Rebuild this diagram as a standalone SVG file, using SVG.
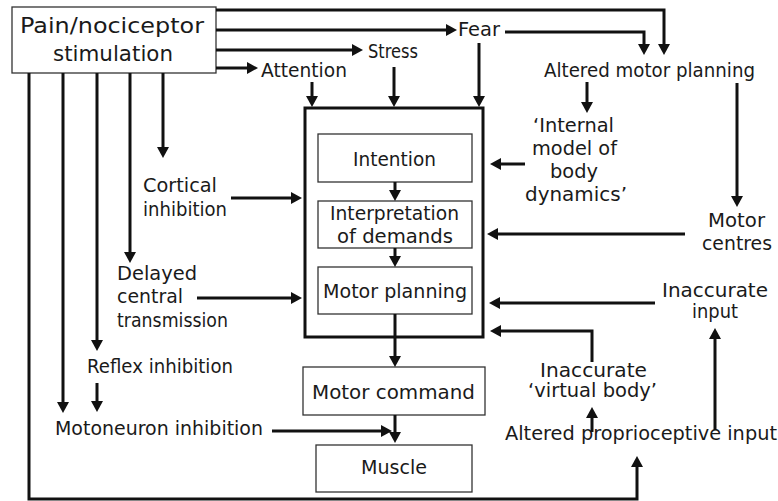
<svg xmlns="http://www.w3.org/2000/svg" width="778" height="501" viewBox="0 0 778 501">
<style>
text{font-family:"DejaVu Sans","Liberation Sans",sans-serif;font-size:19px;fill:#1a1a1a;text-anchor:start}
.big{font-size:22px}
.box{fill:#fff;stroke:#333;stroke-width:1.3}
.main{fill:none;stroke:#111;stroke-width:3}
.c path{fill:none;stroke:#111;stroke-width:3;marker-end:url(#ah)}
</style>
<defs>
<marker id="ah" markerUnits="userSpaceOnUse" markerWidth="12" markerHeight="12" refX="1" refY="6" orient="auto">
<path d="M0,0 L11,6 L0,12 z" fill="#111"/>
</marker>
</defs>
<rect width="778" height="501" fill="#fff"/>

<g id="pain">
<rect class="box" x="12" y="7" width="204" height="66"/>
<text class="big" x="20" y="33" textLength="184" lengthAdjust="spacingAndGlyphs">Pain/nociceptor</text>
<text class="big" x="53" y="61" textLength="120" lengthAdjust="spacingAndGlyphs">stimulation</text>
</g>
<g id="fear"><text x="458" y="36" textLength="42" lengthAdjust="spacingAndGlyphs">Fear</text></g>
<g id="stress"><text x="368" y="58" textLength="50" lengthAdjust="spacingAndGlyphs">Stress</text></g>
<g id="attention"><text x="261" y="77" textLength="86" lengthAdjust="spacingAndGlyphs">Attention</text></g>
<g id="altered-motor-planning"><text x="544" y="77" textLength="211" lengthAdjust="spacingAndGlyphs">Altered motor planning</text></g>
<g id="internal-model">
<text x="533" y="132" textLength="81" lengthAdjust="spacingAndGlyphs">‘Internal</text>
<text x="532" y="155" textLength="85" lengthAdjust="spacingAndGlyphs">model of</text>
<text x="550" y="178" textLength="48" lengthAdjust="spacingAndGlyphs">body</text>
<text x="525" y="201" textLength="102" lengthAdjust="spacingAndGlyphs">dynamics’</text>
</g>
<g id="motor-centres">
<text x="708" y="227" textLength="57" lengthAdjust="spacingAndGlyphs">Motor</text>
<text x="702" y="250" textLength="70" lengthAdjust="spacingAndGlyphs">centres</text>
</g>
<g id="inaccurate-input">
<text x="662" y="297" textLength="106" lengthAdjust="spacingAndGlyphs">Inaccurate</text>
<text x="692" y="318" textLength="46" lengthAdjust="spacingAndGlyphs">input</text>
</g>
<g id="inaccurate-virtual-body">
<text x="540" y="377" textLength="107" lengthAdjust="spacingAndGlyphs">Inaccurate</text>
<text x="528" y="397" textLength="129" lengthAdjust="spacingAndGlyphs">‘virtual body’</text>
</g>
<g id="altered-proprioceptive-input"><text x="505" y="440" textLength="272" lengthAdjust="spacingAndGlyphs">Altered proprioceptive input</text></g>
<g id="cortical-inhibition">
<text x="143" y="192" textLength="74" lengthAdjust="spacingAndGlyphs">Cortical</text>
<text x="143" y="216" textLength="84" lengthAdjust="spacingAndGlyphs">inhibition</text>
</g>
<g id="delayed-central-transmission">
<text x="117" y="280" textLength="80" lengthAdjust="spacingAndGlyphs">Delayed</text>
<text x="117" y="303" textLength="66" lengthAdjust="spacingAndGlyphs">central</text>
<text x="117" y="327" textLength="111" lengthAdjust="spacingAndGlyphs">transmission</text>
</g>
<g id="reflex-inhibition"><text x="87" y="373" textLength="146" lengthAdjust="spacingAndGlyphs">Reflex inhibition</text></g>
<g id="motoneuron-inhibition"><text x="55" y="435" textLength="208" lengthAdjust="spacingAndGlyphs">Motoneuron inhibition</text></g>

<g id="cns">
<rect class="main" x="305" y="108" width="178" height="229"/>
</g>
<g id="intention">
<rect class="box" x="318" y="134" width="154" height="48"/>
<text x="353" y="166" textLength="83" lengthAdjust="spacingAndGlyphs">Intention</text>
</g>
<g id="interpretation">
<rect class="box" x="318" y="201" width="154" height="47"/>
<text x="330" y="220" textLength="129" lengthAdjust="spacingAndGlyphs">Interpretation</text>
<text x="337" y="243" textLength="116" lengthAdjust="spacingAndGlyphs">of demands</text>
</g>
<g id="motor-planning">
<rect class="box" x="318" y="267" width="154" height="47"/>
<text x="323" y="298" textLength="144" lengthAdjust="spacingAndGlyphs">Motor planning</text>
</g>
<g id="motor-command">
<rect class="box" x="303" y="367" width="182" height="48"/>
<text x="312" y="399" textLength="163" lengthAdjust="spacingAndGlyphs">Motor command</text>
</g>
<g id="muscle">
<rect class="box" x="316" y="445" width="156" height="47"/>
<text x="361" y="474" textLength="66" lengthAdjust="spacingAndGlyphs">Muscle</text>
</g>

<g id="connectors" class="c">
<path d="M216,10 H664 V45"/>
<path d="M216,30 H447"/>
<path d="M505,32 H644 V45"/>
<path d="M216,50 H353"/>
<path d="M216,68 H248"/>
<path d="M312,82 V97"/>
<path d="M394,67 V97"/>
<path d="M479,43 V97"/>
<path d="M587,82 V103"/>
<path d="M737,83 V197"/>
<path d="M163,73 V148"/>
<path d="M130,73 V253"/>
<path d="M97,73 V341"/>
<path d="M63,73 V403"/>
<path d="M29,73 V499 H637 V466"/>
<path d="M97,383 V402"/>
<path d="M231,198 H292"/>
<path d="M197,298 H292"/>
<path d="M525,164 H500"/>
<path d="M685,234 H497"/>
<path d="M655,303 H499"/>
<path d="M592,362 V331 H500"/>
<path d="M592,432 V417"/>
<path d="M715,430 V338"/>
<path d="M272,431 H382"/>
<path d="M395,182 V191"/>
<path d="M395,248 V257"/>
<path d="M395,314 V357"/>
<path d="M395,415 V433"/>
</g>
</svg>
